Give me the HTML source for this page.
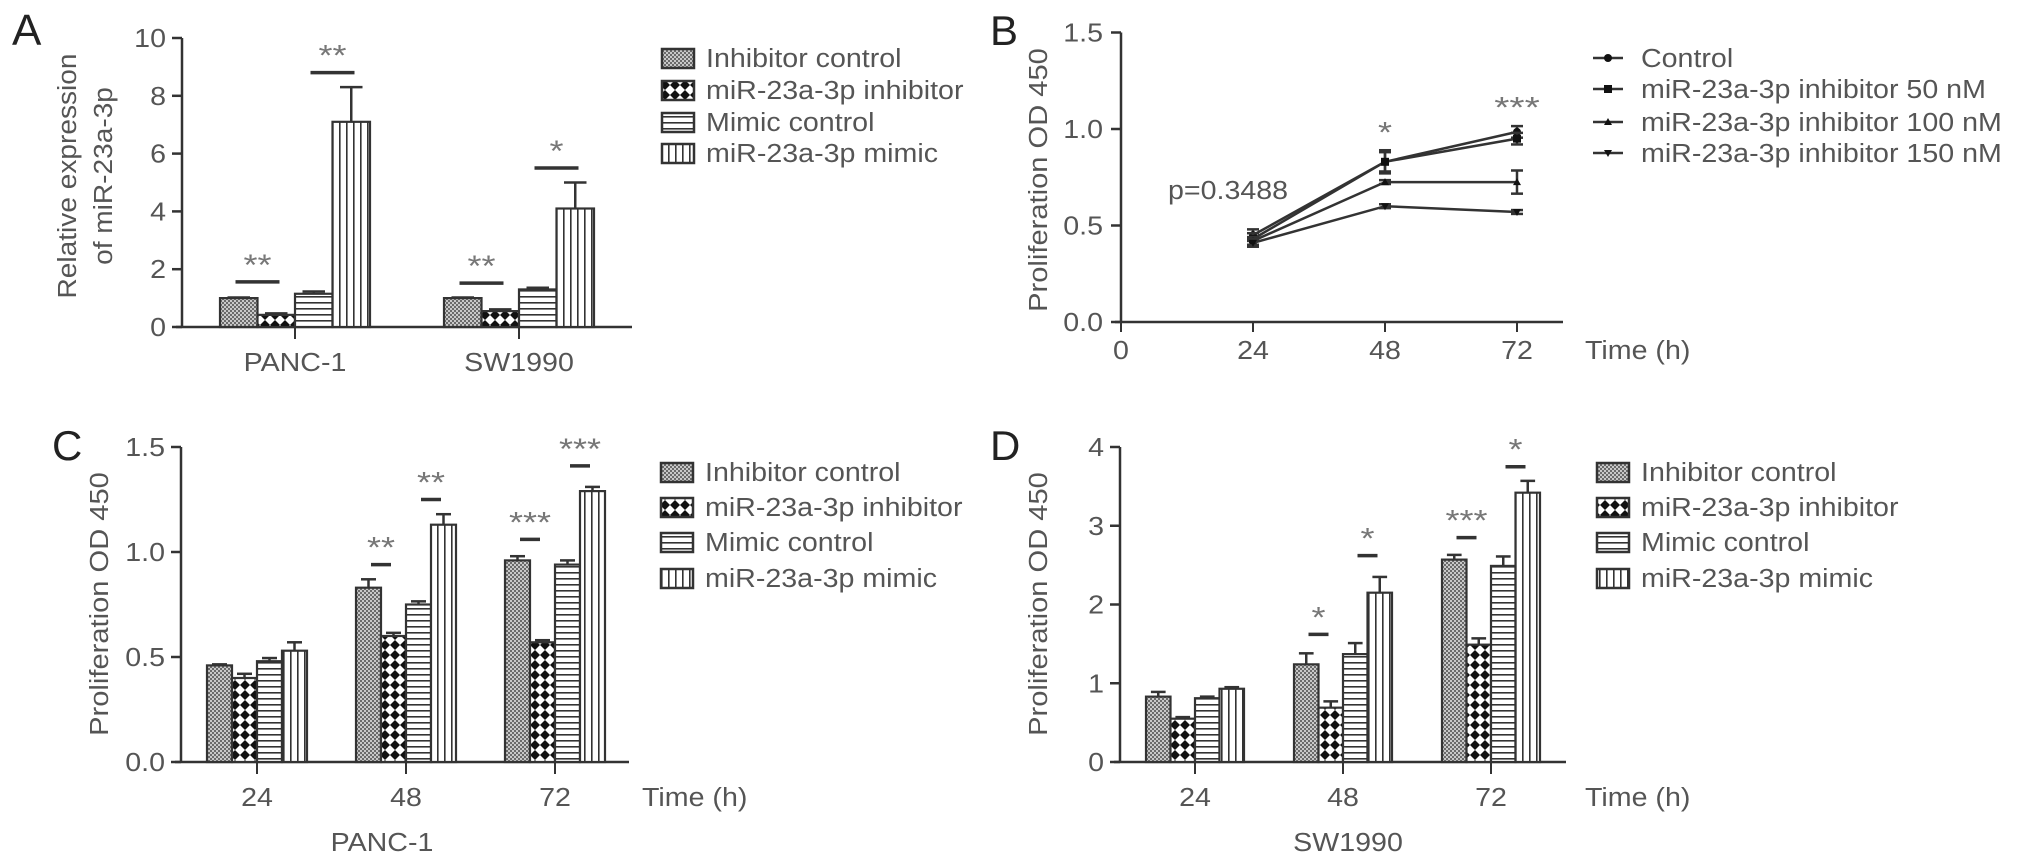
<!DOCTYPE html>
<html><head><meta charset="utf-8"><style>
html,body{margin:0;padding:0;background:#fff;}
svg{display:block;font-family:"Liberation Sans",Arial,sans-serif;}
</style></head><body>
<svg id="fig" width="2032" height="864" viewBox="0 0 2032 864" xmlns="http://www.w3.org/2000/svg">
<defs>
<pattern id="pIC" width="4" height="4" patternUnits="userSpaceOnUse"><rect width="4" height="4" fill="#c8c8c8"/><rect width="2" height="2" fill="#6a6a6a"/><rect x="2" y="2" width="2" height="2" fill="#6a6a6a"/></pattern>
<pattern id="pINH" width="10" height="10" patternUnits="userSpaceOnUse"><rect width="10" height="10" fill="#fff"/><path d="M5 0 L10 5 L5 10 L0 5 Z" fill="#111"/></pattern>
<pattern id="pMC" width="6" height="6" patternUnits="userSpaceOnUse"><rect width="6" height="6" fill="#fff"/><rect y="2" width="6" height="1.6" fill="#333"/></pattern>
<pattern id="pMM" width="7" height="7" patternUnits="userSpaceOnUse"><rect width="7" height="7" fill="#fff"/><rect x="3" width="1.6" height="7" fill="#333"/></pattern>
</defs>
<g id="root"></g>
</svg>
<script>
// ---- data ----
const seriesNames = ["Inhibitor control","miR-23a-3p inhibitor","Mimic control","miR-23a-3p mimic"];
const aCategories = ["PANC-1","SW1990"];
const aValues = [[1.0,0.42,1.15,7.1],[1.0,0.55,1.3,4.1]];
const aErrors = [[0.02,0.05,0.08,1.2],[0.02,0.06,0.06,0.9]];
const aTicks = [0,2,4,6,8,10];
const aSig = [[0,1.56,"**"],[2,8.8,"**"]];
const aSig2 = [[0,1.52,"**"],[2,5.5,"*"]];

const bTimes = [24,48,72];
const bXTicks = [0,24,48,72];
const bYTicks = [0,0.5,1.0,1.5];
const bSeriesNames = ["Control","miR-23a-3p inhibitor 50 nM","miR-23a-3p inhibitor 100 nM","miR-23a-3p inhibitor 150 nM"];
const bValues = [[0.45,0.83,0.985],[0.43,0.83,0.95],[0.42,0.725,0.725],[0.41,0.60,0.57]];
const bErrors = [[0.03,0.06,0.03],[0.03,0.05,0.03],[0.02,0.01,0.06],[0.02,0.01,0.01]];

const cCategories = ["24","48","72"];
const cValues = [[0.46,0.40,0.48,0.53],[0.83,0.60,0.75,1.13],[0.96,0.57,0.94,1.29]];
const cErrors = [[0.005,0.02,0.015,0.04],[0.04,0.015,0.015,0.05],[0.02,0.01,0.02,0.02]];
const cTicks = [0,0.5,1.0,1.5];
const cSig = [[1,0,0.94,"**"],[1,2,1.25,"**"],[2,0,1.06,"***"],[2,2,1.41,"***"]];

const dValues = [[0.83,0.55,0.81,0.93],[1.24,0.69,1.37,2.15],[2.57,1.49,2.49,3.42]];
const dErrors = [[0.06,0.02,0.02,0.02],[0.14,0.08,0.14,0.2],[0.06,0.08,0.12,0.15]];
const dTicks = [0,1,2,3,4];
const dSig = [[1,0,1.62,"*"],[1,2,2.62,"*"],[2,0,2.85,"***"],[2,2,3.75,"*"]];

// ---- helpers ----
const NS="http://www.w3.org/2000/svg";
const root=document.getElementById('root');
const INK="#333", TXT="#555";
const fills=["url(#pIC)","url(#pINH)","url(#pMC)","url(#pMM)"];
function el(tag,attrs,parent){const e=document.createElementNS(NS,tag);for(const k in attrs)e.setAttribute(k,attrs[k]);(parent||root).appendChild(e);return e;}
function line(x1,y1,x2,y2,w,name,p){const e=el('line',{x1,y1,x2,y2,stroke:INK,'stroke-width':w||2.5},p);

return e;}
function txt(x,y,s,name,o){o=o||{};const size=o.size||26,sx=o.sx||1.1,rot=o.rot||0;
const e=el('text',{transform:`translate(${x},${y}) rotate(${rot}) scale(${sx},1)`,'font-size':size,fill:o.fill||TXT,'text-anchor':o.anchor||'start'});
e.textContent=s;

return e;}

function barPanel(cfg){
  const g=el('g',{});
  
  
  const Y=v=>cfg.y0-v*cfg.k;
  line(cfg.ax,Y(cfg.ticks[cfg.ticks.length-1]),cfg.ax,cfg.y0,2.5,'y-axis',g);
  cfg.ticks.forEach(t=>{line(cfg.ax-10,Y(t),cfg.ax,Y(t),2.5,'y-tick',g);
    txt(cfg.ax-16,Y(t)+9,cfg.fmt(t),'y-tick-label',{anchor:'end'});});
  line(cfg.ax-6,cfg.y0,cfg.xEnd,cfg.y0,2.5,'x-axis',g);
  const bw=cfg.bw;
  cfg.values.forEach((grp,gi)=>{
    const gx=cfg.g0+gi*cfg.gs;
    const cx=gx+2*bw;
    line(cx,cfg.y0,cx,cfg.y0+12,2,'x-tick',g);
    txt(cx,cfg.labY,cfg.cats[gi],'x-tick-label',{anchor:'middle'});
    grp.forEach((v,si)=>{
      const x=gx+si*bw, e=cfg.errors[gi][si];
      const r=el('rect',{x:x,y:Y(v),width:bw,height:cfg.y0-Y(v),fill:fills[si],stroke:INK,'stroke-width':2.2},g);
      
      
      line(x+bw/2,Y(v),x+bw/2,Y(v+e),2.5,'error-bar',g);
      line(x+bw/2-bw*0.3,Y(v+e),x+bw/2+bw*0.3,Y(v+e),2.5,'error-cap',g);
    });
  });
  cfg.sig.forEach(s=>{
    const gi=s[0],si=s[1],v=s[2];
    const cx=cfg.g0+gi*cfg.gs+(si+1)*bw;
    line(cx-cfg.sw/2,Y(v),cx+cfg.sw/2,Y(v),3.5,'significance-line',g);
    txt(cx,Y(v)-7,s[3],'significance-stars',{anchor:'middle',size:30,sx:1.2,fill:'#777'});
  });
  seriesNames.forEach((n,i)=>{
    const y=cfg.legY[i];
    const r=el('rect',{x:cfg.legX,y:y-9,width:32,height:19,fill:fills[i],stroke:INK,'stroke-width':2.5},g);
    
    
    txt(cfg.legX+44,y+9,n,'legend-entry',{});
  });
}

// Panel A
barPanel({name:'panel-a',ax:182,y0:327,k:28.9,ticks:aTicks,fmt:t=>String(t),xEnd:632,bw:37.5,g0:220,gs:224,
  values:aValues,errors:aErrors,cats:aCategories,labY:371,
  sig:[[0,0,aSig[0][1],aSig[0][2]],[0,2,aSig[1][1],aSig[1][2]],[1,0,aSig2[0][1],aSig2[0][2]],[1,2,aSig2[1][1],aSig2[1][2]]],
  sw:44,legX:662,legY:[58,90,122,153]});
txt(76,176,'Relative expression','y-axis-title',{anchor:'middle',rot:-90,sx:1.08});
txt(112,176,'of miR-23a-3p','y-axis-title',{anchor:'middle',rot:-90,sx:1.08});
txt(12,45,'A','panel-label',{size:44,sx:1,fill:'#222'});

// Panel C
barPanel({name:'panel-c',ax:181,y0:762,k:210,ticks:cTicks,fmt:t=>t.toFixed(1),xEnd:629,bw:25,g0:207,gs:149,
  values:cValues,errors:cErrors,cats:cCategories,labY:806,sig:cSig,sw:20,legX:661,legY:[472,507,542,578]});
txt(642,806,'Time (h)','x-axis-title',{});
txt(382,851,'PANC-1','x-axis-subtitle',{anchor:'middle'});
txt(108,604,'Proliferation OD 450','y-axis-title',{anchor:'middle',rot:-90,sx:1.12});
txt(52,460,'C','panel-label',{size:42,sx:1,fill:'#222'});

// Panel D
barPanel({name:'panel-d',ax:1120,y0:762,k:78.75,ticks:dTicks,fmt:t=>String(t),xEnd:1566,bw:24.5,g0:1146,gs:148,
  values:dValues,errors:dErrors,cats:cCategories,labY:806,sig:dSig,sw:20,legX:1597,legY:[472,507,542,578]});
txt(1585,806,'Time (h)','x-axis-title',{});
txt(1348,851,'SW1990','x-axis-subtitle',{anchor:'middle'});
txt(1047,604,'Proliferation OD 450','y-axis-title',{anchor:'middle',rot:-90,sx:1.12});
txt(990,460,'D','panel-label',{size:42,sx:1,fill:'#222'});

// Panel B (line chart)
(function(){
  const g=el('g',{});
  
  
  const ax=1121,y0=322,k=193,px=132/24;
  const X=t=>ax+t*px, Y=v=>y0-v*k;
  line(ax,Y(1.5),ax,y0,2.5,'y-axis',g);
  bYTicks.forEach(t=>{line(ax-10,Y(t),ax,Y(t),2.5,'y-tick',g);txt(ax-18,Y(t)+9,t.toFixed(1),'y-tick-label',{anchor:'end'});});
  line(ax-6,y0,1563,y0,2.5,'x-axis',g);
  bXTicks.forEach(t=>{line(X(t),y0,X(t),y0+10,2,'x-tick',g);txt(X(t),359,String(t),'x-tick-label',{anchor:'middle'});});
  txt(1585,359,'Time (h)','x-axis-title',{});
  txt(1047,180,'Proliferation OD 450','y-axis-title',{anchor:'middle',rot:-90,sx:1.12});
  txt(990,45,'B','panel-label',{size:42,sx:1,fill:'#222'});
  txt(1168,199,'p=0.3488','p-value-annotation',{});
  function marker(i,x,y,p){
    let m;
    if(i===0) m=el('circle',{cx:x,cy:y,r:4,fill:'#111'},p);
    else if(i===1) m=el('rect',{x:x-4,y:y-4,width:8,height:8,fill:'#111'},p);
    else if(i===2) m=el('path',{d:`M${x-4} ${y+3}L${x+4} ${y+3}L${x} ${y-4}Z`,fill:'#111'},p);
    else m=el('path',{d:`M${x-4} ${y-3}L${x+4} ${y-3}L${x} ${y+4}Z`,fill:'#111'},p);
    
    
  }
  bValues.forEach((vals,i)=>{
    const pts=vals.map((v,j)=>X(bTimes[j])+','+Y(v)).join(' ');
    const pl=el('polyline',{points:pts,fill:'none',stroke:INK,'stroke-width':2.5},g);
    
    
    vals.forEach((v,j)=>{
      const x=X(bTimes[j]),e=bErrors[i][j];
      line(x,Y(v-e),x,Y(v+e),2.5,'error-bar',g);
      line(x-6,Y(v+e),x+6,Y(v+e),2.5,'error-cap',g);
      line(x-6,Y(v-e),x+6,Y(v-e),2.5,'error-cap',g);
      marker(i,x,Y(v),g);
    });
  });
  txt(X(48),Y(0.93),'*','significance-stars',{anchor:'middle',size:30,sx:1.2,fill:'#777'});
  txt(X(72),Y(1.06),'***','significance-stars',{anchor:'middle',size:30,sx:1.3,fill:'#777'});
  const legY=[58,89,122,153];
  bSeriesNames.forEach((n,i)=>{
    line(1593,legY[i],1623,legY[i],2.5,'legend-line',g);
    marker(i,1608,legY[i],g);
    txt(1641,legY[i]+9,n,'legend-entry',{});
  });
})();
</script>
</body></html>
